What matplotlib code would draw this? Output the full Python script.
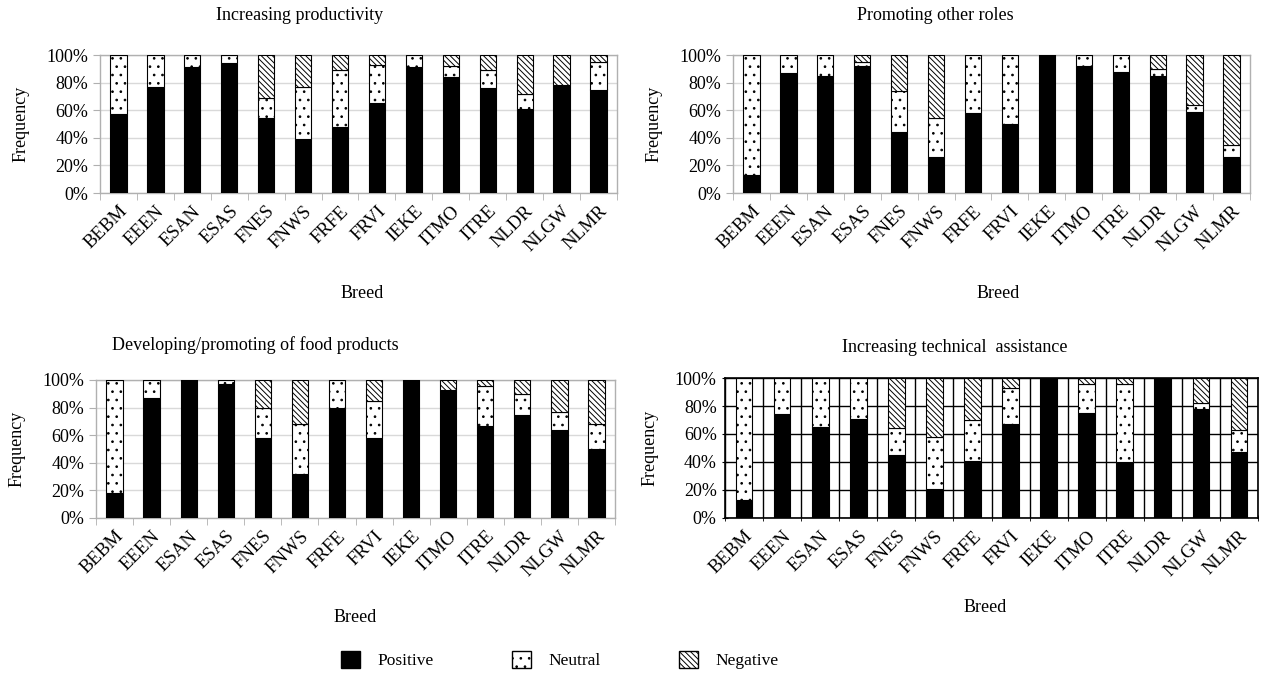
import matplotlib
matplotlib.use("Agg")
import matplotlib.pyplot as plt
import numpy as np
from matplotlib.patches import Patch

plt.rcParams['font.family'] = ['Liberation Serif', 'DejaVu Serif']
plt.rcParams['hatch.linewidth'] = 0.7

breeds = ["BEBM", "EEEN", "ESAN", "ESAS", "FNES", "FNWS", "FRFE", "FRVI",
          "IEKE", "ITMO", "ITRE", "NLDR", "NLGW", "NLMR"]

titles = ["Increasing productivity", "Promoting other roles",
          "Developing/promoting of food products", "Increasing technical  assistance"]

# Panel 1: Increasing productivity
prod_pos = [57, 77, 91, 94, 54, 39, 48, 65, 91, 84, 76, 61, 78, 75]
prod_neu = [43, 23, 9, 6, 15, 38, 41, 28, 9, 8, 13, 11, 0, 20]
prod_neg = [0, 0, 0, 0, 31, 23, 11, 7, 0, 8, 11, 28, 22, 5]

# Panel 2: Promoting other roles
roles_pos = [13, 87, 85, 92, 44, 26, 58, 50, 100, 92, 88, 85, 59, 26]
roles_neu = [87, 13, 15, 3, 30, 28, 42, 50, 0, 8, 12, 5, 5, 9]
roles_neg = [0, 0, 0, 5, 26, 46, 0, 0, 0, 0, 0, 10, 36, 65]

# Panel 3: Developing/promoting of food products
food_pos = [18, 87, 100, 97, 58, 32, 80, 58, 100, 93, 67, 75, 64, 50]
food_neu = [82, 13, 0, 3, 22, 36, 20, 27, 0, 0, 29, 15, 13, 18]
food_neg = [0, 0, 0, 0, 20, 32, 0, 15, 0, 7, 4, 10, 23, 32]

# Panel 4: Increasing technical assistance
tech_pos = [13, 74, 65, 71, 45, 21, 41, 67, 100, 75, 40, 100, 78, 47]
tech_neu = [87, 26, 35, 29, 19, 37, 29, 26, 0, 21, 56, 0, 4, 16]
tech_neg = [0, 0, 0, 0, 36, 42, 30, 7, 0, 4, 4, 0, 18, 37]

data = [(prod_pos, prod_neu, prod_neg), (roles_pos, roles_neu, roles_neg),
        (food_pos, food_neu, food_neg), (tech_pos, tech_neu, tech_neg)]

W, H = 1263, 675
fig = plt.figure(figsize=(W / 100, H / 100), dpi=100)

NEU_HATCH = '..'
NEG_HATCH = '\\\\\\\\\\\\'

# axes boxes in pixel coords: left, right, top, bottom
boxes = [(100, 617, 55, 193), (733, 1250, 55, 193),
         (96, 615, 380, 518), (725, 1258, 378, 518)]
title_pos = [(300, 15), (935, 15), (255, 345), (955, 348)]
breed_pos = [(362, 293), (998, 293), (355, 617), (985, 607)]

x = np.arange(len(breeds))
for i, (box, (pos, neu, neg)) in enumerate(zip(boxes, data)):
    l, r, t, b = box
    ax = fig.add_axes([l / W, 1 - b / H, (r - l) / W, (b - t) / H])
    pos = np.array(pos); neu = np.array(neu); neg = np.array(neg)
    bw = 0.44
    ax.bar(x, pos, bw, color='black', edgecolor='black', linewidth=0.8, zorder=3)
    ax.bar(x, neu, bw, bottom=pos, color='white', edgecolor='black', hatch=NEU_HATCH,
           linewidth=0.8, zorder=3)
    ax.bar(x, neg, bw, bottom=pos + neu, color='white', edgecolor='black',
           hatch=NEG_HATCH, linewidth=0.8, zorder=3)
    ax.set_xlim(-0.5, len(breeds) - 0.5)
    ax.set_ylim(0, 100)
    ax.set_yticks(np.arange(0, 101, 20))
    ax.set_yticklabels([f"{v}%" for v in range(0, 101, 20)], fontsize=13)
    ax.set_xticks(x)
    ax.set_xticklabels(breeds, rotation=45, ha='right', rotation_mode='anchor',
                       fontsize=13.5)
    ax.tick_params(axis='x', which='major', length=0, pad=7)
    ax.set_xticks(np.arange(-0.5, len(breeds), 1), minor=True)
    if i == 3:
        ax.grid(axis='y', color='black', linewidth=1.0, zorder=0)
        ax.grid(axis='x', which='minor', color='black', linewidth=1.0, zorder=0)
        for s in ax.spines.values():
            s.set_color('black'); s.set_linewidth(1.2)
        ax.tick_params(axis='y', length=5, color='black', direction='inout')
        ax.tick_params(axis='x', which='minor', length=5, color='black', direction='inout')
    else:
        ax.grid(axis='y', color='#d9d9d9', linewidth=1.0, zorder=0)
        for s in ax.spines.values():
            s.set_color('#b0b0b0'); s.set_linewidth(1.0)
        ax.tick_params(axis='y', length=5, color='#b0b0b0')
        ax.tick_params(axis='x', which='minor', length=5, color='#b0b0b0')
    ax.set_ylabel("Frequency", fontsize=13, labelpad=12)
    ax.set_axisbelow(True)
    tx, ty = title_pos[i]
    fig.text(tx / W, 1 - ty / H, titles[i], ha='center', va='center', fontsize=13)
    bx, by = breed_pos[i]
    fig.text(bx / W, 1 - by / H, "Breed", ha='center', va='center', fontsize=13)

handles = [Patch(facecolor='black', edgecolor='black', label='Positive'),
           Patch(facecolor='white', edgecolor='black', hatch=NEU_HATCH, label='Neutral'),
           Patch(facecolor='white', edgecolor='black', hatch=NEG_HATCH, label='Negative')]
fig.legend(handles=handles, loc='center', bbox_to_anchor=(560 / W, 1 - 660 / H),
           ncol=3, frameon=False, fontsize=12.5, columnspacing=4.5, handlelength=1.1,
           handleheight=1.1, handletextpad=1.0)

fig.savefig("out.png", dpi=100)
